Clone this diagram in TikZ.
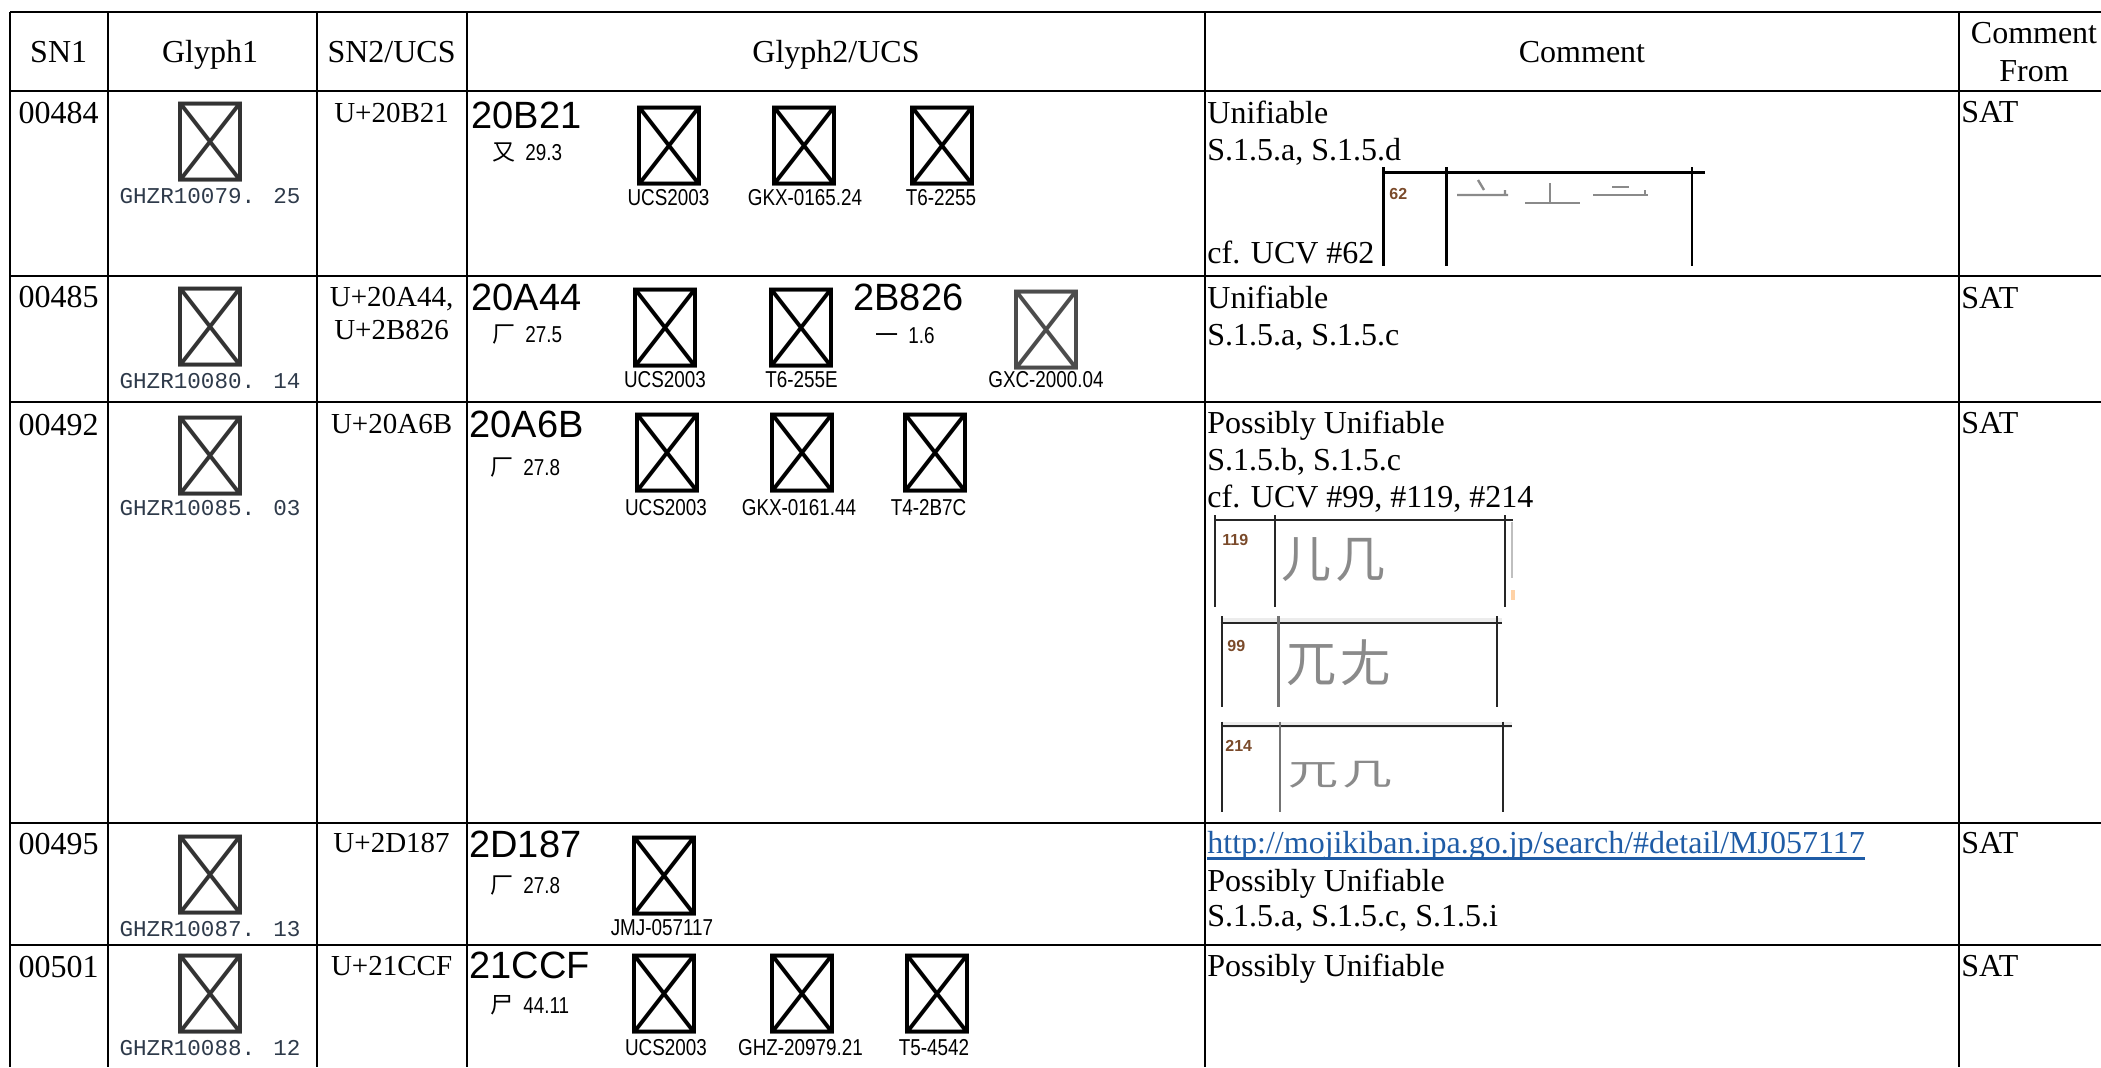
\documentclass[tikz,border=0pt]{standalone}
\usepackage{fontspec}
\setmainfont{Liberation Serif}
\newfontfamily\cjkfont{Noto Sans CJK SC}
\newfontfamily\extfont{Noto Sans CJK TC}
\newfontfamily\codefont{Liberation Sans}
\newfontfamily\narrowfont{Liberation Sans}[FakeStretch=0.82]
\newfontfamily\ghzfont{Liberation Mono}
\usetikzlibrary{positioning}

\definecolor{ghzgray}{HTML}{2E3A4A}
\definecolor{linkblue}{HTML}{1F5CA6}
\definecolor{ucvgray}{HTML}{8A8A8A}
\definecolor{numbrown}{HTML}{7A4A2A}
\newcommand\uc[1]{{\extfont\char"#1\relax}}

\begin{document}
\begin{tikzpicture}[x=0.5pt,y=-0.5pt,
    tabline/.style={line width=1pt},
    txt/.style={anchor=base west,inner sep=0pt,font=\fontsize{16}{18}\selectfont},
    hdr/.style={txt,anchor=base},
    ucs/.style={anchor=base,inner sep=0pt,font=\fontsize{14.5}{16}\selectfont},
    codetxt/.style={anchor=base west,inner sep=0pt,font=\codefont\fontsize{19}{20}\selectfont},
    radtxt/.style={anchor=base west,inner sep=0pt,font=\narrowfont\fontsize{11.5}{12}\selectfont},
    bigglyph/.style={anchor=base,inner sep=0pt,font=\cjkfont\fontsize{40}{40}\selectfont},
    srctxt/.style={anchor=base,inner sep=0pt,font=\narrowfont\fontsize{11.5}{12}\selectfont},
    ghz/.style={anchor=base,inner sep=0pt,text=ghzgray,font=\ghzfont\fontsize{11.3}{12}\selectfont},
    ucvdark/.style={line width=1pt,black!85},
    ucvnum/.style={anchor=base west,inner sep=0pt,text=numbrown,font=\codefont\bfseries\fontsize{8}{9}\selectfont},
    ucvchar/.style={anchor=base west,inner sep=0pt,text=ucvgray,font=\cjkfont\fontsize{25}{25}\selectfont}]
    \useasboundingbox (0,0) rectangle (2101,1067);

    % Table rules
    \foreach \y in {11.7,91,276,401.7,822.7,945}
        \draw[tabline] (10,\y) -- (2101,\y);
    \foreach \x in {10,107.5,316.5,466.7,1205,1958.6}
        \draw[tabline] (\x,11.7) -- (\x,1067);

    % Header
    \node[hdr] (h-sn1) at (58.7,62) {SN1};
    \node[hdr] (h-glyph1) at (210,62) {Glyph1};
    \node[hdr] (h-sn2) at (391.6,62) {SN2/UCS};
    \node[hdr] (h-glyph2) at (836,62) {Glyph2/UCS};
    \node[hdr] (h-comment) at (1582,62) {Comment};
    \node[hdr] (h-from-a) at (2034,43) {Comment};
    \node[hdr] (h-from-b) at (2034,81) {From};

    % SN1 and SN2/UCS
    \node[hdr] (sn-a) at (58.7,123) {00484};
    \node[hdr] (sn-b) at (58.7,307) {00485};
    \node[hdr] (sn-c) at (58.7,435) {00492};
    \node[hdr] (sn-d) at (58.7,854) {00495};
    \node[hdr] (sn-e) at (58.7,977) {00501};
    \node[ucs] (ucs-a) at (391.6,122) {U+20B21};
    \node[ucs] (ucs-b1) at (391.6,306) {U+20A44,};
    \node[ucs] (ucs-b2) at (391.6,339) {U+2B826};
    \node[ucs] (ucs-c) at (391.6,433) {U+20A6B};
    \node[ucs] (ucs-d) at (391.6,852) {U+2D187};
    \node[ucs] (ucs-e) at (391.6,975) {U+21CCF};

    % Glyph1
    \node[bigglyph,text=black!80] (g1-a) at (210,172) {\uc{20B21}};
    \node[ghz] (g1-a-src) at (210,203) {GHZR10079. 25};
    \node[bigglyph,text=black!80] (g1-b) at (210,357) {\uc{20A44}};
    \node[ghz] (g1-b-src) at (210,388) {GHZR10080. 14};
    \node[bigglyph,text=black!80] (g1-c) at (210,486) {\uc{20A6B}};
    \node[ghz] (g1-c-src) at (210,515) {GHZR10085. 03};
    \node[bigglyph,text=black!80] (g1-d) at (210,905) {\uc{2D187}};
    \node[ghz] (g1-d-src) at (210,936) {GHZR10087. 13};
    \node[bigglyph,text=black!80] (g1-e) at (210,1024) {\uc{21CCF}};
    \node[ghz] (g1-e-src) at (210,1055) {GHZR10088. 12};

    % Glyph2/UCS, row 00484
    \node[codetxt] (cp-a) at (471,128) {20B21};
    \node[radtxt] (rs-a) at (492,160) {\mbox{\cjkfont 又}\hspace{5pt}29.3};
    \node[bigglyph] (g2-a1) at (669,176) {\uc{20B21}};
    \node[bigglyph] (g2-a2) at (804,176) {\uc{20B21}};
    \node[bigglyph] (g2-a3) at (942,176) {\uc{20B21}};
    \node[srctxt] (s-a1) at (668.5,205) {UCS2003};
    \node[srctxt] (s-a2) at (805,205) {GKX-0165.24};
    \node[srctxt] (s-a3) at (941,205) {T6-2255};

    % Glyph2/UCS, row 00485
    \node[codetxt] (cp-b) at (471,310) {20A44};
    \node[radtxt] (rs-b) at (492,342) {\mbox{\cjkfont 厂}\hspace{5pt}27.5};
    \node[bigglyph] (g2-b1) at (665,358) {\uc{20A44}};
    \node[bigglyph] (g2-b2) at (801.5,358) {\uc{20A44}};
    \node[codetxt] (cp-b2) at (853,310) {2B826};
    \node[radtxt] (rs-b2) at (875,343) {\mbox{\cjkfont 一}\hspace{5pt}1.6};
    \node[bigglyph,text=black!70] (g2-b3) at (1046,360) {\uc{2B826}};
    \node[srctxt] (s-b1) at (665,387) {UCS2003};
    \node[srctxt] (s-b2) at (801.5,387) {T6-255E};
    \node[srctxt] (s-b3) at (1046,387) {GXC-2000.04};

    % Glyph2/UCS, row 00492
    \node[codetxt] (cp-c) at (469,437) {20A6B};
    \node[radtxt] (rs-c) at (490,475) {\mbox{\cjkfont 厂}\hspace{5pt}27.8};
    \node[bigglyph] (g2-c1) at (667.5,483) {\uc{20A6B}};
    \node[bigglyph] (g2-c2) at (802.7,483) {\uc{20A6B}};
    \node[bigglyph] (g2-c3) at (935.5,483) {\uc{20A6B}};
    \node[srctxt] (s-c1) at (666,515) {UCS2003};
    \node[srctxt] (s-c2) at (799,515) {GKX-0161.44};
    \node[srctxt] (s-c3) at (928.5,515) {T4-2B7C};

    % Glyph2/UCS, row 00495
    \node[codetxt] (cp-d) at (469,857) {2D187};
    \node[radtxt] (rs-d) at (490,893) {\mbox{\cjkfont 厂}\hspace{5pt}27.8};
    \node[bigglyph] (g2-d1) at (664,906) {\uc{2D187}};
    \node[srctxt] (s-d1) at (662,935) {JMJ-057117};

    % Glyph2/UCS, row 00501
    \node[codetxt] (cp-e) at (469,978) {21CCF};
    \node[radtxt] (rs-e) at (490,1013) {\mbox{\cjkfont 尸}\hspace{5pt}44.11};
    \node[bigglyph] (g2-e1) at (664,1024) {\uc{21CCF}};
    \node[bigglyph] (g2-e2) at (802.7,1024) {\uc{21CCF}};
    \node[bigglyph] (g2-e3) at (937.7,1024) {\uc{21CCF}};
    \node[srctxt] (s-e1) at (666,1055) {UCS2003};
    \node[srctxt] (s-e2) at (800.5,1055) {GHZ-20979.21};
    \node[srctxt] (s-e3) at (934,1055) {T5-4542};

    % Comment, row 00484
    \node[txt] (c-a1) at (1207,123) {Unifiable};
    \node[txt] (c-a2) at (1207,160) {S.1.5.a, S.1.5.d};
    \node[txt] (c-a3) at (1207,263) {cf. UCV \#62};
    \draw[line width=1.6pt] (1383,172.7) -- (1705,172.7);
    \foreach \x in {1383.3,1446.7,1692}
        \draw[line width=1.4pt] (\x,167) -- (\x,265.7);
    \node[ucvnum] (n-62) at (1389,199) {62};
    \draw[ucvgray,line width=1.2pt] (1457,195) -- (1508,195) (1505,190) -- (1505,195) (1478,180) -- (1484,190);
    \draw[ucvgray,line width=1.2pt] (1525,202.7) -- (1580,202.7) (1550,183) -- (1550,202.7);
    \draw[ucvgray,line width=1.2pt] (1593,195) -- (1648,195) (1612,187) -- (1629,187) (1645,190) -- (1645,195);

    % Comment, row 00485
    \node[txt] (c-b1) at (1207,308) {Unifiable};
    \node[txt] (c-b2) at (1207,345) {S.1.5.a, S.1.5.c};

    % Comment, row 00492
    \node[txt] (c-c1) at (1207,433) {Possibly Unifiable};
    \node[txt] (c-c2) at (1207,470) {S.1.5.b, S.1.5.c};
    \node[txt] (c-c3) at (1207,507) {cf. UCV \#99, \#119, \#214};
    % UCV 119
    \draw[ucvdark] (1215,520) -- (1513,520);
    \foreach \x in {1215,1275,1505}
        \draw[ucvdark] (\x,515) -- (\x,607);
    \draw[gray!50,line width=1pt] (1512.3,521.7) -- (1512.3,578);
    \fill[orange!35] (1510.5,590) rectangle (1514.5,600);
    \node[ucvnum] (n-119) at (1222,545) {119};
    \node[ucvchar] (u-119) at (1281,577) {儿\hspace{2pt}几};
    % UCV 99
    \fill[gray!15] (1221,617.7) rectangle (1502,624.3);
    \draw[ucvdark] (1220.7,623.3) -- (1501.7,623.3);
    \foreach \x in {1221.7,1496.7}
        \draw[ucvdark] (\x,616) -- (\x,706.7);
    \draw[black!55,line width=1.4pt] (1278.3,616) -- (1278.3,706.7);
    \node[ucvnum] (n-99) at (1227,651.7) {99};
    \node[ucvchar] (u-99) at (1286,681) {兀\hspace{2pt}尢};
    % UCV 214
    \fill[gray!15] (1222,721.7) rectangle (1512,728.3);
    \draw[ucvdark] (1221.7,726) -- (1511.7,726);
    \foreach \x in {1222.3,1502.7}
        \draw[ucvdark] (\x,721.7) -- (\x,811.7);
    \draw[black!55,line width=1.4pt] (1280,721.7) -- (1280,811.7);
    \node[ucvnum] (n-214) at (1225,751.7) {214};
    \node[ucvchar] (u-214) at (1288,785) {\scalebox{1}[0.62]{兀\hspace{2pt}几}};

    % Comment, row 00495
    \node[txt,text=linkblue] (link) at (1207,853) {http://mojikiban.ipa.go.jp/search/\#detail/MJ057117};
    \draw[linkblue,line width=1.3pt] ([yshift=-2.65pt]link.base west) -- ([yshift=-2.65pt]link.base east);
    \node[txt] (c-d2) at (1207,891.7) {Possibly Unifiable};
    \node[txt] (c-d3) at (1207,926.7) {S.1.5.a, S.1.5.c, S.1.5.i};

    % Comment, row 00501
    \node[txt] (c-e1) at (1207,976.7) {Possibly Unifiable};

    % Comment From
    \node[txt] (f-a) at (1961,122.7) {SAT};
    \node[txt] (f-b) at (1961,308) {SAT};
    \node[txt] (f-c) at (1961,433) {SAT};
    \node[txt] (f-d) at (1961,853) {SAT};
    \node[txt] (f-e) at (1961,976.7) {SAT};
\end{tikzpicture}
\end{document}
